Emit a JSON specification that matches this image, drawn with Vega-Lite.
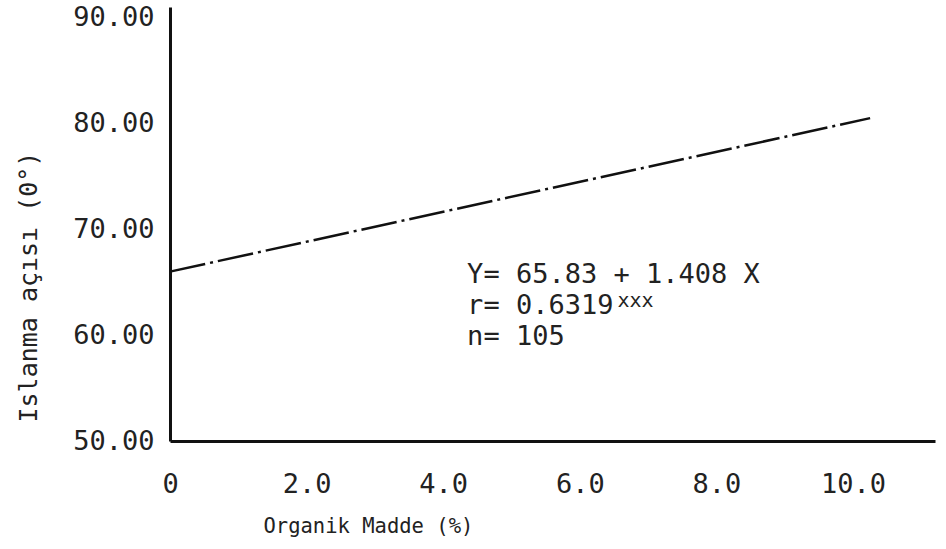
{
  "$schema": "https://vega.github.io/schema/vega-lite/v6.json",
  "width": 765,
  "height": 434,
  "autosize": {"type": "none"},
  "padding": {"left": 170, "top": 7, "right": 11, "bottom": 108},
  "background": "white",
  "config": {
    "view": {"stroke": null},
    "font": "DejaVu Sans Mono",
    "axis": {
      "domainColor": "#111",
      "domainWidth": 3,
      "grid": false,
      "ticks": false,
      "labelFont": "DejaVu Sans Mono",
      "labelFontSize": 27,
      "labelColor": "#222",
      "titleFont": "DejaVu Sans Mono",
      "titleFontWeight": "normal",
      "titleColor": "#222"
    }
  },
  "datasets": {
    "line": [
      {"om": 0, "angle": 66.0},
      {"om": 10.25, "angle": 80.5}
    ],
    "notes": [
      {"om": 4.35, "angle": 65.68, "label": "Y= 65.83 + 1.408 X"},
      {"om": 4.35, "angle": 62.75, "label": "r= 0.6319"},
      {"om": 4.35, "angle": 59.83, "label": "n= 105"}
    ],
    "sup": [
      {"om": 6.55, "angle": 63.2, "label": "xxx"}
    ]
  },
  "layer": [
    {
      "data": {"name": "line"},
      "mark": {"type": "line", "color": "#111", "strokeWidth": 2.5, "strokeDash": [36, 5, 3, 5]},
      "encoding": {
        "x": {
          "field": "om", "type": "quantitative",
          "scale": {"domain": [0, 11.2], "nice": false, "zero": false},
          "axis": {
            "values": [0, 2, 4, 6, 8, 10],
            "labelExpr": "datum.value == 0 ? '0' : format(datum.value, '.1f')",
            "labelPadding": 30,
            "labelFlush": false,
            "title": "Organik Madde (%)",
            "titleFontSize": 20.5,
            "titleAnchor": "start",
            "titleAlign": "left",
            "titleX": 93,
            "titleY": 91,
            "titleBaseline": "alphabetic"
          }
        },
        "y": {
          "field": "angle", "type": "quantitative",
          "scale": {"domain": [50, 91], "nice": false, "zero": false},
          "axis": {
            "values": [50, 60, 70, 80, 90],
            "format": ".2f",
            "labelPadding": 16,
            "labelFlush": false,
            "title": "Islanma açısı (0°)",
            "titleFontSize": 25,
            "titleAngle": -90,
            "titleAlign": "left",
            "titleBaseline": "middle",
            "titleAnchor": "start",
            "titleX": -142,
            "titleY": 415
          }
        }
      }
    },
    {
      "data": {"name": "notes"},
      "mark": {"type": "text", "align": "left", "baseline": "middle", "font": "DejaVu Sans Mono", "fontSize": 27, "color": "#222"},
      "encoding": {
        "x": {"field": "om", "type": "quantitative"},
        "y": {"field": "angle", "type": "quantitative"},
        "text": {"field": "label"}
      }
    },
    {
      "data": {"name": "sup"},
      "mark": {"type": "text", "align": "left", "baseline": "middle", "font": "DejaVu Sans Mono", "fontSize": 20, "color": "#222"},
      "encoding": {
        "x": {"field": "om", "type": "quantitative"},
        "y": {"field": "angle", "type": "quantitative"},
        "text": {"field": "label"}
      }
    }
  ]
}
